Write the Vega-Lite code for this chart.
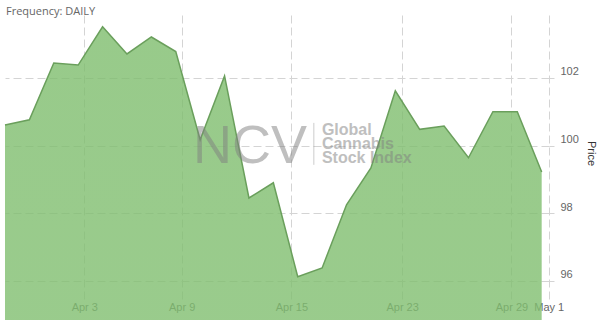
{
  "$schema": "https://vega.github.io/schema/vega-lite/v6.json",
  "width": 544,
  "height": 276,
  "autosize": "none",
  "padding": {"left": 5, "top": 15, "right": 51, "bottom": 29},
  "background": "white",
  "title": {"text": "Frequency: DAILY", "anchor": "start", "frame": "group", "font": "Open Sans", "fontSize": 11, "fontWeight": "normal", "color": "#666666", "offset": -2, "dx": 1},
  "config": {"view": {"stroke": null}},
  "data": {"values": [
    {"i": 0, "price": 100.61},
    {"i": 1, "price": 100.76},
    {"i": 2, "price": 102.44},
    {"i": 3, "price": 102.38},
    {"i": 4, "price": 103.51},
    {"i": 5, "price": 102.71},
    {"i": 6, "price": 103.21},
    {"i": 7, "price": 102.78},
    {"i": 8, "price": 100.17},
    {"i": 9, "price": 102.06},
    {"i": 10, "price": 98.45},
    {"i": 11, "price": 98.90},
    {"i": 12, "price": 96.12},
    {"i": 13, "price": 96.38},
    {"i": 14, "price": 98.25},
    {"i": 15, "price": 99.34},
    {"i": 16, "price": 101.62},
    {"i": 17, "price": 100.48},
    {"i": 18, "price": 100.58},
    {"i": 19, "price": 99.64},
    {"i": 20, "price": 101.00},
    {"i": 21, "price": 101.00},
    {"i": 22, "price": 99.22}
  ]},
  "layer": [
    {
      "mark": {"type": "area", "fillOpacity": 0.8, "color": {"gradient": "linear", "x1": 0, "y1": 0, "x2": 0, "y2": 1, "stops": [{"offset": 0, "color": "#7ebd6d"}, {"offset": 1, "color": "#98cd8a"}]}},
      "encoding": {
        "x": {"field": "i", "type": "quantitative", "scale": {"domain": [0, 22.3], "nice": false, "zero": false},
          "axis": {"values": [3.25, 7.24, 11.74, 16.28, 20.76, 22.29], "labelExpr": "datum.value < 5 ? 'Apr 3' : datum.value < 9 ? 'Apr 9' : datum.value < 14 ? 'Apr 15' : datum.value < 18 ? 'Apr 23' : datum.value < 22 ? 'Apr 29' : 'May 1'", "title": null, "grid": true, "gridDash": [8, 4], "gridColor": "#d4d4d4", "domain": false, "ticks": true, "tickSize": 8, "tickColor": "#d4d4d4", "labelColor": "#666666", "labelFont": "Liberation Sans Narrow, Liberation Sans, Arial, sans-serif", "labelFontSize": 11, "labelPadding": 2, "labelFlush": false, "labelOverlap": false, "labelBound": false}},
        "y": {"field": "price", "type": "quantitative", "scale": {"domain": [95.7, 103.86], "nice": false, "zero": false},
          "axis": {"orient": "right", "values": [96, 98, 100, 102], "grid": true, "gridDash": [8, 4], "gridColor": "#d4d4d4", "domain": false, "ticks": true, "tickSize": 5, "tickColor": "#d4d4d4", "labelColor": "#666666", "labelFont": "Liberation Sans Narrow, Liberation Sans, Arial, sans-serif", "labelFontSize": 11, "labelPadding": 6, "labelOffset": -6, "title": "Price", "titleFont": "Liberation Sans", "titleFontSize": 11, "titleFontWeight": "normal", "titleColor": "#333333", "titlePadding": 7}}
      }
    },
    {
      "mark": {"type": "line", "color": "#6a9f5c", "strokeWidth": 1.5},
      "encoding": {
        "x": {"field": "i", "type": "quantitative"},
        "y": {"field": "price", "type": "quantitative"}
      }
    },
    {
      "data": {"values": [{"label": "NCV"}]},
      "mark": {"type": "text", "font": "Liberation Sans", "fontSize": 54, "fontWeight": "normal", "color": "#808080", "opacity": 0.5, "align": "center", "baseline": "alphabetic"},
      "encoding": {
        "text": {"field": "label"},
        "x": {"datum": 10.04, "type": "quantitative"},
        "y": {"datum": 99.49, "type": "quantitative"}
      }
    },
    {
      "data": {"values": [{}]},
      "mark": {"type": "rule", "color": "#808080", "opacity": 0.4, "strokeWidth": 1},
      "encoding": {
        "x": {"datum": 12.66, "type": "quantitative"},
        "y": {"datum": 100.67, "type": "quantitative"},
        "y2": {"datum": 99.43}
      }
    },
    {
      "data": {"values": [{"label": "Global\nCannabis\nStock Index"}]},
      "mark": {"type": "text", "lineBreak": "\n", "lineHeight": 14, "font": "Liberation Sans", "fontSize": 16, "fontWeight": "bold", "color": "#808080", "opacity": 0.5, "align": "left", "baseline": "alphabetic"},
      "encoding": {
        "text": {"field": "label"},
        "x": {"datum": 12.99, "type": "quantitative"},
        "y": {"datum": 100.315, "type": "quantitative"}
      }
    }
  ]
}
